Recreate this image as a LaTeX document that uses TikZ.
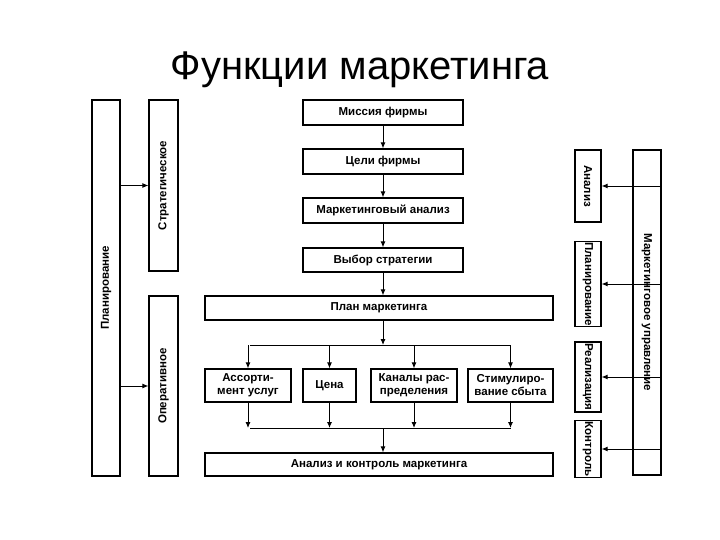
\documentclass[tikz,border=0pt]{standalone}
\usepackage{fontspec}
\setmainfont{Liberation Sans}
\usetikzlibrary{arrows.meta}
\begin{document}
\begin{tikzpicture}[x=1pt,y=-1pt,
    box/.style={draw,line width=1.2pt,inner sep=1pt,font=\bfseries\fontsize{11.5}{13}\selectfont,align=center},
    arr/.style={-{Latex[length=6pt,width=5pt]},line width=0.9pt},
    ln/.style={line width=0.9pt}]

    \useasboundingbox (0,0) rectangle (720,540);
    \node (title) at (360,70) {\fontsize{40}{46}\selectfont Функции маркетинга};

    % left column
    \node[box,rotate=90,minimum width=376pt,minimum height=28pt] (plan) at (106,288) {Планирование};
    \node[box,rotate=90,minimum width=171pt,minimum height=29pt] (strat) at (163.5,185.5) {Стратегическое};
    \node[box,rotate=90,minimum width=180pt,minimum height=29pt] (oper) at (163.5,386) {Оперативное};
    \draw[arr] (plan.south |- strat) -- (strat.north);
    \draw[arr] (plan.south |- oper) -- (oper.north);

    % main chain
    \node[box,minimum width=160pt,minimum height=25pt] (mis) at (383,112.5) {Миссия фирмы};
    \node[box,minimum width=160pt,minimum height=25pt] (cel) at (383,161.5) {Цели фирмы};
    \node[box,minimum width=160pt,minimum height=25pt] (anl) at (383,210.5) {Маркетинговый анализ};
    \node[box,minimum width=160pt,minimum height=24pt] (vyb) at (383,260) {Выбор стратегии};
    \node[box,minimum width=348pt,minimum height=24pt] (pm) at (379,308) {План маркетинга};
    \draw[arr] (mis) -- (cel);
    \draw[arr] (cel) -- (anl);
    \draw[arr] (anl) -- (vyb);
    \draw[arr] (vyb) -- (pm.north -| vyb);

    % complex
    \node[box,minimum width=86pt,minimum height=33pt] (ass) at (248,385.5) {Ассорти-\\мент услуг};
    \node[box,minimum width=53pt,minimum height=33pt] (cen) at (329.5,385.5) {Цена};
    \node[box,minimum width=86pt,minimum height=33pt] (kan) at (414,385.5) {Каналы рас-\\пределения};
    \node[box,minimum width=85pt,minimum height=33pt] (stm) at (510.5,385.5) {Стимулиро-\\вание сбыта};
    \node[box,minimum width=348pt,minimum height=23pt] (ak) at (379,464.5) {Анализ и контроль маркетинга};

    \coordinate (b0) at (383,345);
    \coordinate (b1) at (250,345);
    \coordinate (b4) at (511,345);
    \coordinate (m0) at (383,428);
    \coordinate (m1) at (250,428);
    \coordinate (m4) at (511,428);
    \draw[arr] (pm.south -| b0) -- (b0);
    \draw[ln] (b1) -- (b4);
    \draw[ln] (m1) -- (m4);
    \foreach \n in {ass,cen,kan,stm}{
        \draw[arr] (b1 -| \n) -- (\n.north -| \n);
        \draw[arr] (\n.south -| \n) -- (m1 -| \n);
    }
    \draw[arr] (m0) -- (ak.north -| m0);

    % right column
    \node[box,rotate=-90,minimum width=325pt,minimum height=28pt] (upr) at (647,312.5) {Маркетинговое управление};
    \node[box,rotate=-90,minimum width=72pt,minimum height=26pt] (an) at (588,186) {Анализ};
    \node[box,rotate=-90,minimum width=72pt,minimum height=26pt] (pl) at (588,284) {Планирование};
    \node[box,rotate=-90,minimum width=70pt,minimum height=26pt] (re) at (588,377) {Реализация};
    \node[box,rotate=-90,minimum width=52pt,minimum height=26pt] (ko) at (588,449) {Контроль};
    \foreach \n in {an,pl,re,ko}
        \draw[arr] (upr.north |- \n) -- (\n.north);
\end{tikzpicture}
\end{document}
